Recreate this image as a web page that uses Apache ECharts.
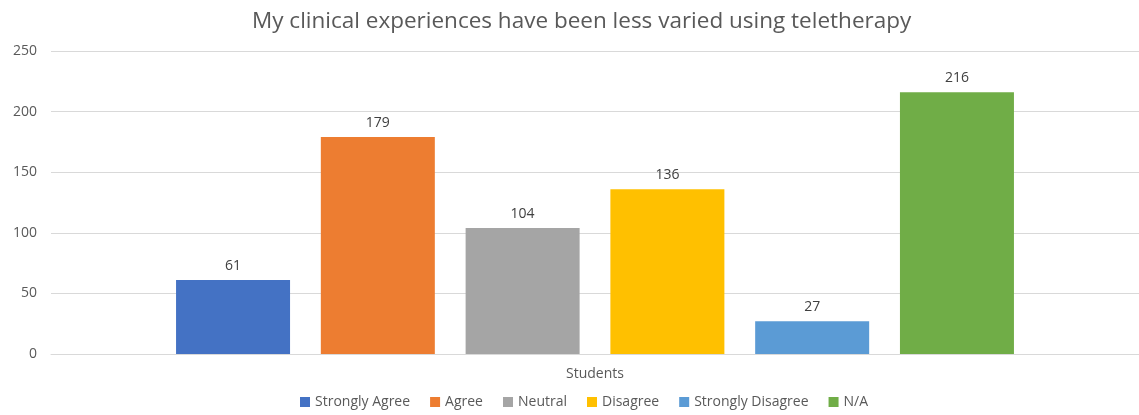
<!DOCTYPE html>
<html>
<head>
<meta charset="utf-8">
<script src="https://cdn.jsdelivr.net/npm/echarts@6/dist/echarts.min.js"></script>
<style>
  html, body { margin: 0; padding: 0; background: #fff; }
  #chart { width: 1139px; height: 415px; }
</style>
</head>
<body>
<div id="chart"></div>
<script>
// Survey responses, one bar per answer
const categories = ['Students'];
const responses = ['Strongly Agree', 'Agree', 'Neutral', 'Disagree', 'Strongly Disagree', 'N/A'];
const counts = [61, 179, 104, 136, 27, 216];
const colors = ['#4472C4', '#ED7D31', '#A5A5A5', '#FFC000', '#5B9BD5', '#70AD47'];
const yTicks = { min: 0, max: 250, interval: 50 };

const FONT = '"Open Sans", "Noto Sans", sans-serif';

const chart = echarts.init(document.getElementById('chart'), null, { renderer: 'canvas' });

const series = responses.map((name, i) => ({
  name: name,
  type: 'bar',
  data: [counts[i]],
  barWidth: 114,
  barGap: '27%',
  itemStyle: { color: colors[i] },
  label: {
    show: true,
    position: 'top',
    distance: 7,
    color: '#404040',
    fontSize: 14,
    fontFamily: FONT
  }
}));

chart.setOption({
  animation: false,
  backgroundColor: '#ffffff',
  textStyle: { fontFamily: FONT },
  title: {
    text: 'My clinical experiences have been less varied using teletherapy',
    left: 247,
    top: 5,
    textStyle: { color: '#595959', fontSize: 22.5, fontWeight: 'normal', fontFamily: FONT }
  },
  legend: {
    data: responses,
    bottom: 1,
    left: 295,
    itemWidth: 10,
    itemHeight: 10,
    itemGap: 20,
    icon: 'rect',
    textStyle: { color: '#595959', fontSize: 14, fontFamily: FONT }
  },
  grid: { left: 51, right: 0, top: 51, bottom: 61, containLabel: false },
  xAxis: {
    type: 'category',
    data: categories,
    axisLine: { show: true, lineStyle: { color: '#d9d9d9' } },
    axisTick: { show: false },
    axisLabel: { color: '#595959', fontSize: 14, margin: 13, fontFamily: FONT }
  },
  yAxis: {
    type: 'value',
    min: yTicks.min,
    max: yTicks.max,
    interval: yTicks.interval,
    axisLine: { show: false },
    axisTick: { show: false },
    splitLine: { lineStyle: { color: '#d9d9d9' } },
    axisLabel: { color: '#595959', fontSize: 14, margin: 14, fontFamily: FONT }
  },
  series: series
});
</script>
</body>
</html>
